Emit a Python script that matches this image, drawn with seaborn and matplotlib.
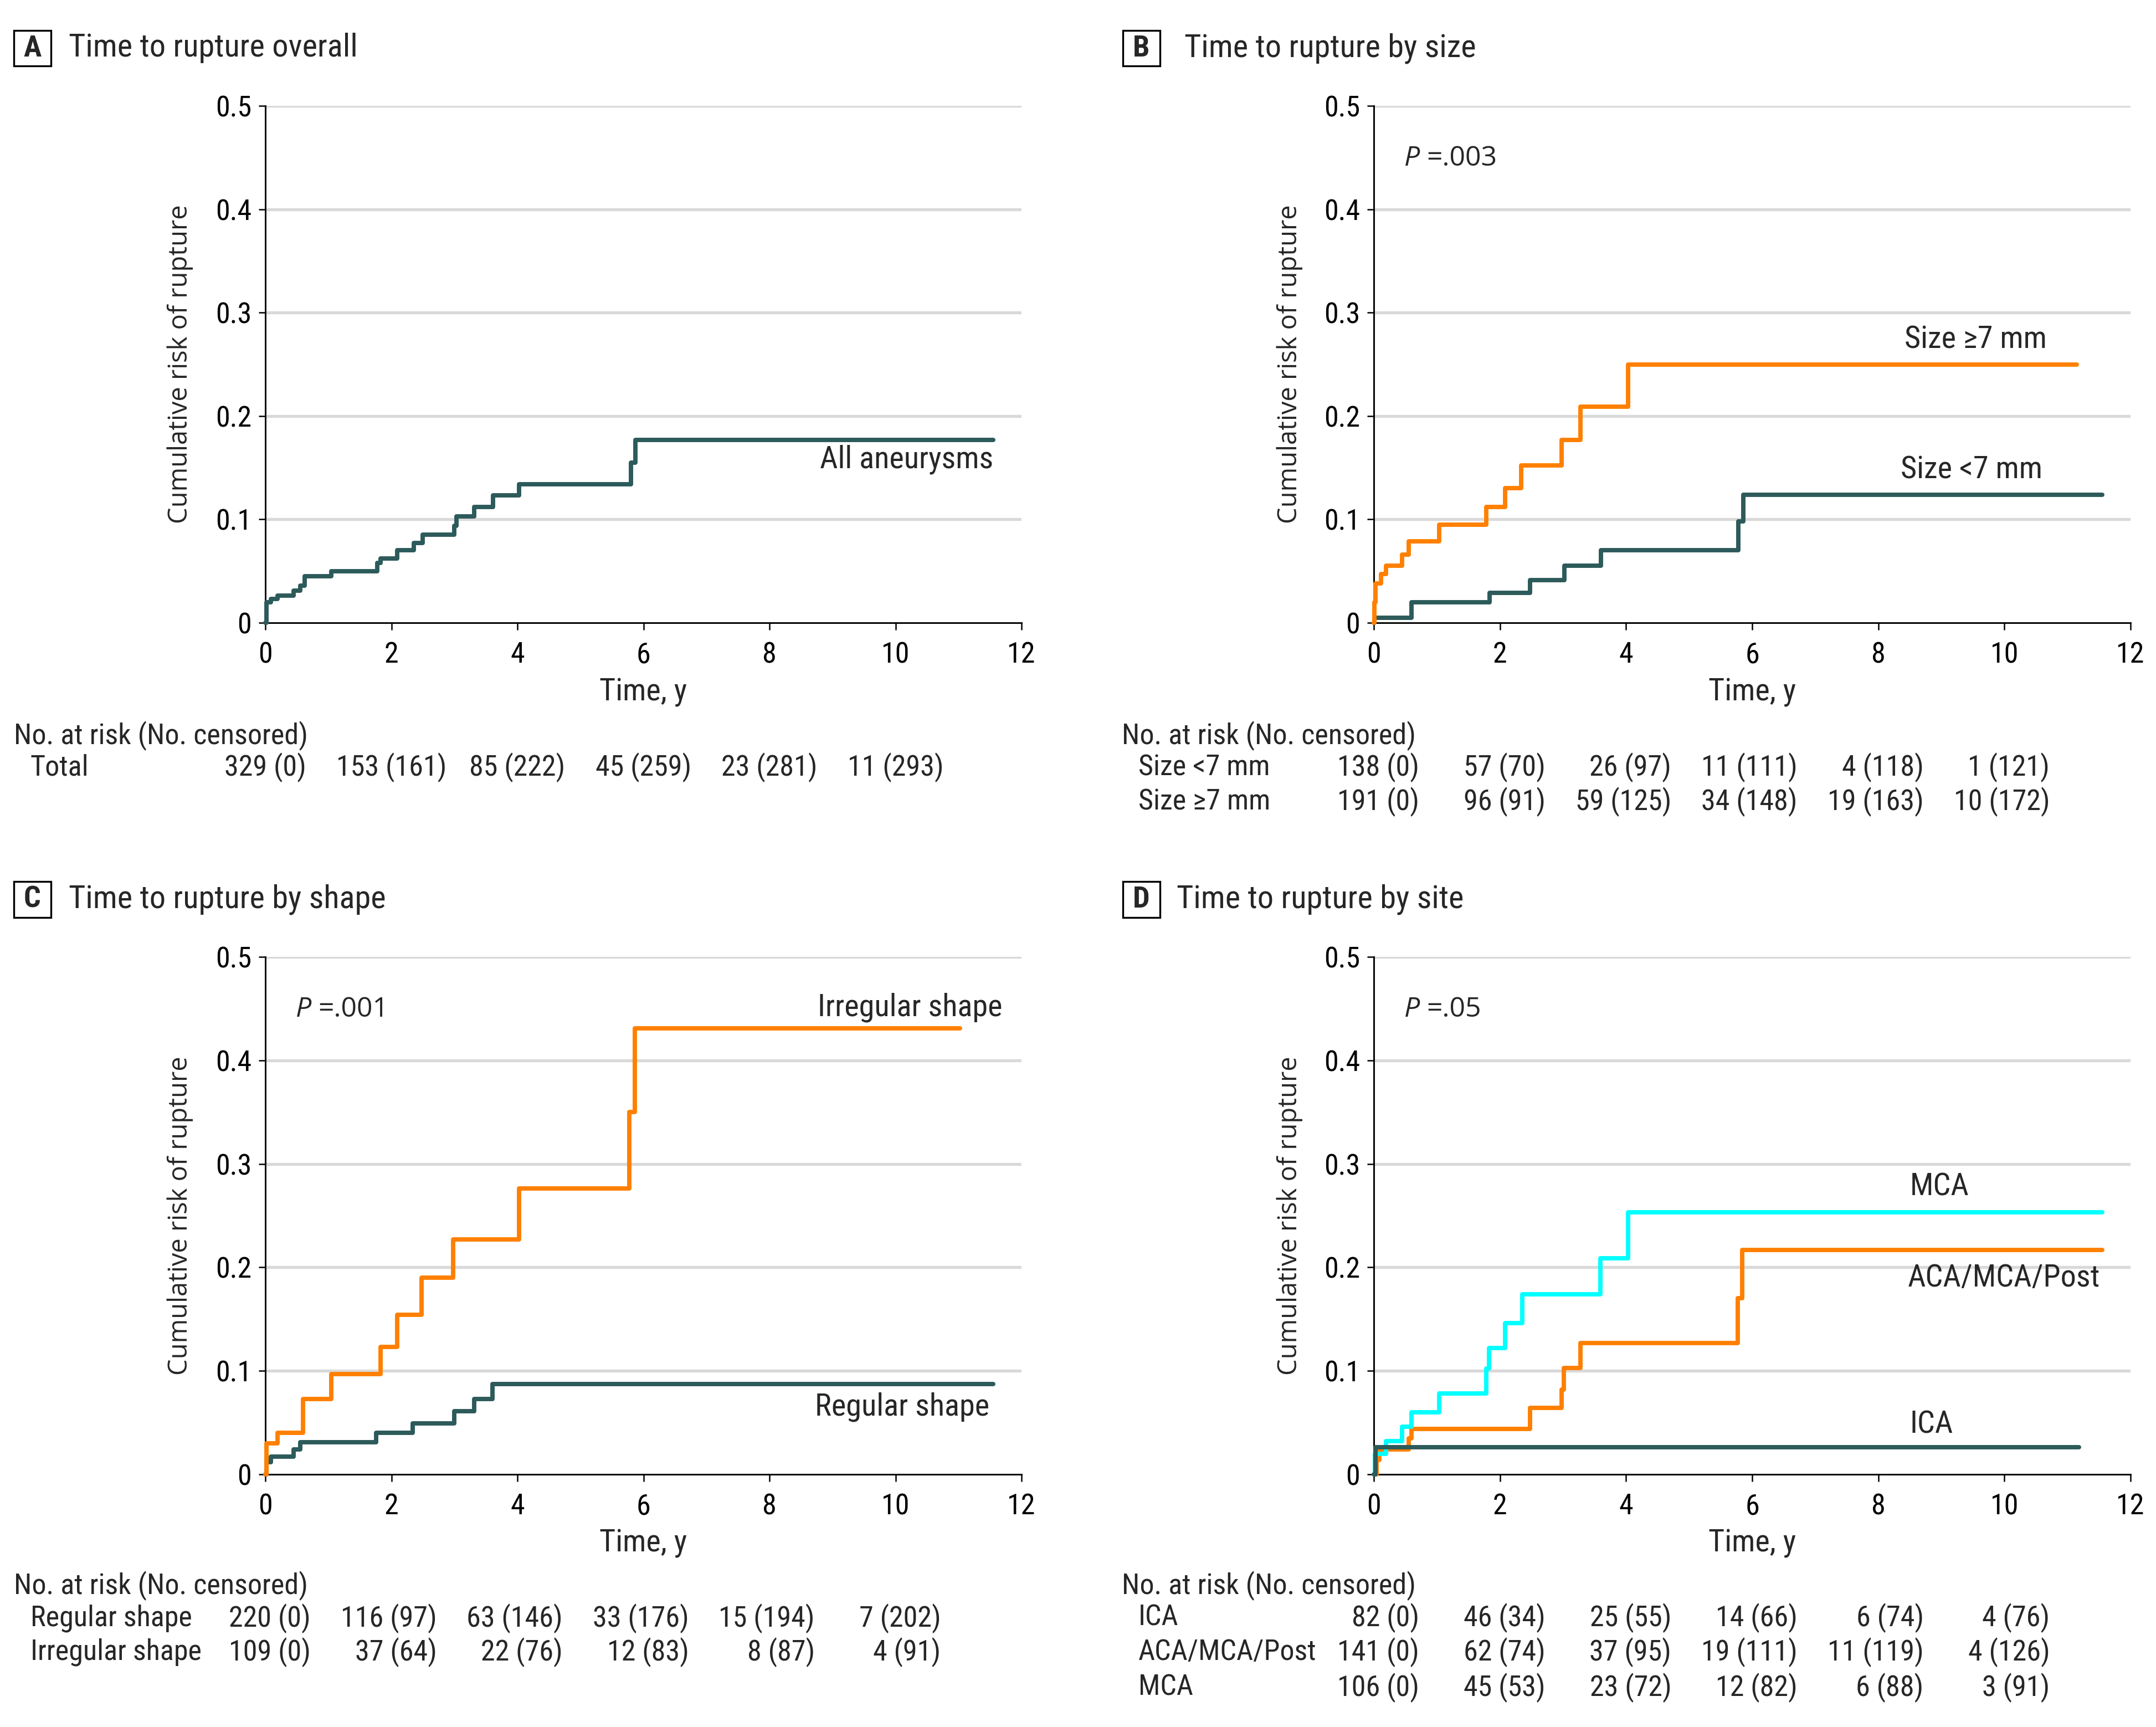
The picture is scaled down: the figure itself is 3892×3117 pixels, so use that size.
import matplotlib
matplotlib.use("Agg")
import matplotlib.pyplot as plt
import matplotlib.transforms as mtransforms
from matplotlib import font_manager
from matplotlib.patches import Rectangle
import seaborn as sns
import pandas as pd

# ---------------- data ----------------
x_ticks = [0, 2, 4, 6, 8, 10, 12]
y_ticks = [0, 0.1, 0.2, 0.3, 0.4, 0.5]
y_ticklabels = ["0", "0.1", "0.2", "0.3", "0.4", "0.5"]
risk_times = [0, 2, 4, 6, 8, 10]

# Panel A
a_time = [0, 0.02, 0.09, 0.19, 0.45, 0.55, 0.62, 1.05, 1.78, 1.83, 2.09, 2.36, 2.50,
          3.00, 3.03, 3.31, 3.61, 4.03, 5.80, 5.87, 11.55]
a_risk = [0, 0.020, 0.023, 0.026, 0.031, 0.036, 0.045, 0.050, 0.058, 0.062, 0.070,
          0.077, 0.085, 0.094, 0.103, 0.112, 0.123, 0.134, 0.155, 0.177, 0.177]
a_table_labels = ["Total"]
a_table = [["329 (0)", "153 (161)", "85 (222)", "45 (259)", "23 (281)", "11 (293)"]]

# Panel B
b_large_time = [0, 0.01, 0.03, 0.11, 0.19, 0.45, 0.55, 1.04, 1.78, 2.08, 2.34, 2.98,
                3.28, 4.03, 11.15]
b_large_risk = [0, 0.020, 0.038, 0.047, 0.055, 0.066, 0.079, 0.095, 0.112, 0.130,
                0.152, 0.177, 0.209, 0.250, 0.250]
b_small_time = [0, 0.01, 0.60, 1.84, 2.48, 3.02, 3.60, 5.78, 5.86, 11.55]
b_small_risk = [0, 0.005, 0.020, 0.029, 0.041, 0.055, 0.070, 0.098, 0.124, 0.124]
b_table_labels = ["Size <7 mm", "Size \u22657 mm"]
b_table = [["138 (0)", "57 (70)", "26 (97)", "11 (111)", "4 (118)", "1 (121)"],
           ["191 (0)", "96 (91)", "59 (125)", "34 (148)", "19 (163)", "10 (172)"]]

# Panel C
c_irr_time = [0, 0.02, 0.19, 0.60, 1.05, 1.83, 2.09, 2.48, 2.98, 4.03, 5.78, 5.86, 11.02]
c_irr_risk = [0, 0.030, 0.040, 0.073, 0.097, 0.123, 0.154, 0.190, 0.227, 0.276, 0.350,
              0.431, 0.431]
c_reg_time = [0, 0.02, 0.09, 0.45, 0.55, 1.76, 2.34, 3.00, 3.31, 3.60, 11.55]
c_reg_risk = [0, 0.012, 0.017, 0.024, 0.031, 0.040, 0.049, 0.061, 0.073, 0.087, 0.087]
c_table_labels = ["Regular shape", "Irregular shape"]
c_table = [["220 (0)", "116 (97)", "63 (146)", "33 (176)", "15 (194)", "7 (202)"],
           ["109 (0)", "37 (64)", "22 (76)", "12 (83)", "8 (87)", "4 (91)"]]

# Panel D
d_mca_time = [0, 0.02, 0.19, 0.45, 0.60, 1.04, 1.78, 1.83, 2.08, 2.35, 3.59, 4.03, 11.55]
d_mca_risk = [0, 0.020, 0.032, 0.046, 0.060, 0.078, 0.102, 0.122, 0.146, 0.174, 0.209,
              0.253, 0.253]
d_aca_time = [0, 0.04, 0.09, 0.55, 0.60, 2.48, 2.98, 3.01, 3.28, 5.77, 5.84, 11.55]
d_aca_risk = [0, 0.014, 0.024, 0.035, 0.044, 0.064, 0.082, 0.103, 0.127, 0.170, 0.217,
              0.217]
d_ica_time = [0, 0.03, 11.18]
d_ica_risk = [0, 0.026, 0.026]
d_table_labels = ["ICA", "ACA/MCA/Post", "MCA"]
d_table = [["82 (0)", "46 (34)", "25 (55)", "14 (66)", "6 (74)", "4 (76)"],
           ["141 (0)", "62 (74)", "37 (95)", "19 (111)", "11 (119)", "4 (126)"],
           ["106 (0)", "45 (53)", "23 (72)", "12 (82)", "6 (88)", "3 (91)"]]

# ---------------- style ----------------
DARK = "#2D5A5A"
ORANGE = "#FF8000"
CYAN = "#00FFFF"
GRID = "#D9D9D9"

sns.set_theme(style="white")

# pick a condensed face if one is installed
_avail = [(f.name, str(f.stretch)) for f in font_manager.fontManager.ttflist]
_names = {n for n, _ in _avail}
COND_FAMILY, COND_STRETCH, IS_COND = "Roboto", "normal", False
for fam in ["Roboto Condensed", "Liberation Sans Narrow", "Open Sans Condensed",
            "Noto Sans Condensed", "DejaVu Sans Condensed"]:
    if fam in _names:
        COND_FAMILY, COND_STRETCH, IS_COND = fam, "normal", True
        break
else:
    for fam in ["Noto Sans", "Open Sans", "DejaVu Sans", "Roboto"]:
        hit = [s for n, s in _avail if n == fam and s in
               ("condensed", "semi-condensed", "extra-condensed", "75", "87.5",
                "62.5")]
        if hit:
            COND_FAMILY, COND_STRETCH, IS_COND = fam, hit[0], True
            break
    if not IS_COND:
        COND_FAMILY = "Roboto" if "Roboto" in _names else "DejaVu Sans"

plt.rcParams["font.family"] = [COND_FAMILY, "DejaVu Sans"]
plt.rcParams["font.stretch"] = COND_STRETCH
plt.rcParams["axes.unicode_minus"] = False

SF = 1.0 if IS_COND else 0.86
FS_TICK = 12.5 * SF
FS_TAB = 12.5 * SF
FS_TITLE = 14 * SF
FS_LAB = 13.5 * SF
FS_XLAB = 13.5 * SF
LW = 1.9

W, H = 3892, 3117
DPI = 300
fig = plt.figure(figsize=(W / DPI, H / DPI), dpi=DPI)
fig.patch.set_facecolor("white")


def fx(px):
    return px / W


def fy(py):
    return 1 - py / H


def make_axes(left_px, right_px, top_px, bottom_px):
    return fig.add_axes([fx(left_px), fy(bottom_px), (right_px - left_px) / W,
                         (bottom_px - top_px) / H])


def style_axes(ax):
    ax.set_xlim(0, 12)
    ax.set_ylim(0, 0.5)
    ax.set_xticks(x_ticks)
    ax.set_xticklabels([str(t) for t in x_ticks])
    ax.set_yticks(y_ticks)
    ax.set_yticklabels(y_ticklabels)
    for s in ["top", "right"]:
        ax.spines[s].set_visible(False)
    for s in ["left", "bottom"]:
        ax.spines[s].set_color("black")
        ax.spines[s].set_linewidth(0.7)
    ax.tick_params(axis="both", which="both", direction="out", length=3, width=0.6,
                   color="black", labelsize=FS_TICK, labelcolor="black")
    ax.tick_params(axis="x", pad=5, bottom=True)
    ax.tick_params(axis="y", pad=3, left=True)
    for yv in y_ticks[1:]:
        ax.axhline(yv, color=GRID, lw=1.3, zorder=0)
    ax.set_facecolor("white")
    ax.grid(False)


def plot_panel(ax, series, colors):
    rows = []
    for name, t, r in series:
        for ti, ri in zip(t, r):
            rows.append({"time": ti, "risk": ri, "group": name})
    df = pd.DataFrame(rows)
    sns.lineplot(data=df, x="time", y="risk", hue="group",
                 hue_order=[s[0] for s in series],
                 palette=colors, estimator=None, sort=False, legend=False,
                 drawstyle="steps-post", linewidth=LW, ax=ax, zorder=3,
                 clip_on=False)
    ax.set_xlabel("")
    ax.set_ylabel("")


def panel_title(letter, title, box_px, text_x_px, center_y_px):
    x0, y0, x1, y1 = box_px
    rect = Rectangle((fx(x0), fy(y1)), (x1 - x0) / W, (y1 - y0) / H,
                     transform=fig.transFigure, fill=False, edgecolor="black",
                     lw=0.8)
    fig.add_artist(rect)
    fig.text(fx((x0 + x1) / 2), fy(center_y_px), letter, ha="center", va="center",
             fontsize=FS_TITLE - 1, fontweight="bold")
    fig.text(fx(text_x_px), fy(center_y_px), title, ha="left", va="center",
             fontsize=FS_TITLE)


def risk_table(ax, header_x_px, label_x_px, header_y_px, row_y_px, labels, table,
               centered=False, offset=0.7):
    fig.text(fx(header_x_px), fy(header_y_px), "No. at risk (No. censored)",
             ha="left", va="center", fontsize=FS_TAB)
    trans = mtransforms.blended_transform_factory(ax.transData, fig.transFigure)
    for lab, row, ypx in zip(labels, table, row_y_px):
        fig.text(fx(label_x_px), fy(ypx), lab, ha="left", va="center",
                 fontsize=FS_TAB)
        for t, val in zip(risk_times, row):
            if centered:
                ax.text(t, fy(ypx), val, transform=trans, ha="center", va="center",
                        fontsize=FS_TAB, clip_on=False)
            else:
                ax.text(t + offset, fy(ypx), val, transform=trans, ha="right",
                        va="center", fontsize=FS_TAB, clip_on=False)


def axis_labels(ax, ylab_x_px, xlab_y_px):
    trans_y = mtransforms.blended_transform_factory(fig.transFigure, ax.transAxes)
    ax.text(fx(ylab_x_px), 0.5, "Cumulative risk of rupture", transform=trans_y,
            rotation=90, ha="center", va="center", fontsize=11.3,
            family=["Open Sans", "DejaVu Sans"], fontstretch="normal",
            clip_on=False)
    trans_x = mtransforms.blended_transform_factory(ax.transData, fig.transFigure)
    ax.text(6, fy(xlab_y_px), "Time, y", transform=trans_x, ha="center",
            va="center", fontsize=FS_XLAB, clip_on=False)


def pvalue(ax, text_val):
    ax.text(0.48, 0.449, "P", ha="left", va="center", fontsize=12,
            style="italic", family=["Open Sans", "DejaVu Sans"],
            fontstretch="normal")
    ax.text(0.84, 0.449, "=" + text_val, ha="left", va="center", fontsize=12,
            family=["Open Sans", "DejaVu Sans"], fontstretch="normal")


# Geometry (pixels)
L_LEFT, L_RIGHT = 479, 1844
R_LEFT, R_RIGHT = 2480, 3846
T_TOP, T_BOT = 191, 1124
B_TOP, B_BOT = 1727, 2661

axA = make_axes(L_LEFT, L_RIGHT, T_TOP, T_BOT)
axB = make_axes(R_LEFT, R_RIGHT, T_TOP, T_BOT)
axC = make_axes(L_LEFT, L_RIGHT, B_TOP, B_BOT)
axD = make_axes(R_LEFT, R_RIGHT, B_TOP, B_BOT)

for ax in [axA, axB, axC, axD]:
    style_axes(ax)

# Panel A
plot_panel(axA, [("All aneurysms", a_time, a_risk)], {"All aneurysms": DARK})
axA.text(11.55, 0.158, "All aneurysms", ha="right", va="center", fontsize=FS_LAB)

# Panel B
plot_panel(axB, [("Size <7 mm", b_small_time, b_small_risk),
                 ("Size \u22657 mm", b_large_time, b_large_risk)],
           {"Size <7 mm": DARK, "Size \u22657 mm": ORANGE})
axB.text(10.67, 0.274, "Size \u22657 mm", ha="right", va="center", fontsize=FS_LAB)
axB.text(10.6, 0.148, "Size <7 mm", ha="right", va="center", fontsize=FS_LAB)
pvalue(axB, ".003")

# Panel C
plot_panel(axC, [("Regular shape", c_reg_time, c_reg_risk),
                 ("Irregular shape", c_irr_time, c_irr_risk)],
           {"Regular shape": DARK, "Irregular shape": ORANGE})
axC.text(11.7, 0.451, "Irregular shape", ha="right", va="center", fontsize=FS_LAB)
axC.text(11.49, 0.065, "Regular shape", ha="right", va="center", fontsize=FS_LAB)
pvalue(axC, ".001")

# Panel D
plot_panel(axD, [("ACA/MCA/Post", d_aca_time, d_aca_risk),
                 ("MCA", d_mca_time, d_mca_risk),
                 ("ICA", d_ica_time, d_ica_risk)],
           {"ACA/MCA/Post": ORANGE, "MCA": CYAN, "ICA": DARK})
axD.text(8.5, 0.278, "MCA", ha="left", va="center", fontsize=FS_LAB)
axD.text(8.47, 0.19, "ACA/MCA/Post", ha="left", va="center", fontsize=FS_LAB)
axD.text(8.5, 0.048, "ICA", ha="left", va="center", fontsize=FS_LAB)
pvalue(axD, ".05")

# Axis labels
axis_labels(axA, 325, 1249)
axis_labels(axB, 2328, 1249)
axis_labels(axC, 325, 2785)
axis_labels(axD, 2328, 2785)

# Titles
panel_title("A", "Time to rupture overall", (25, 55, 92, 119), 124, 87)
panel_title("B", "Time to rupture by size", (2027, 55, 2094, 119), 2138, 87)
panel_title("C", "Time to rupture by shape", (25, 1591, 92, 1656), 124, 1623)
panel_title("D", "Time to rupture by site", (2027, 1591, 2094, 1656), 2124, 1623)

# Risk tables
risk_table(axA, 25, 55, 1328, [1385], a_table_labels, a_table, centered=True)
risk_table(axB, 2025, 2055, 1328, [1385, 1447], b_table_labels, b_table,
           offset=0.72)
risk_table(axC, 25, 55, 2862, [2921, 2982], c_table_labels, c_table, offset=0.72)
risk_table(axD, 2025, 2055, 2862, [2920, 2982, 3046], d_table_labels, d_table,
           offset=0.72)

fig.savefig("out.png", dpi=DPI, facecolor="white")
